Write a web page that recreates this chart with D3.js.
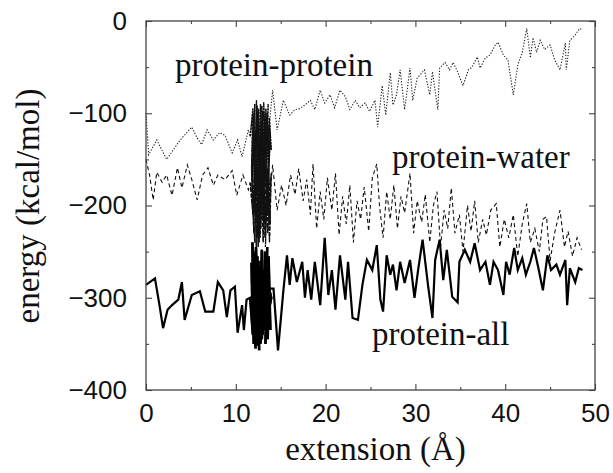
<!DOCTYPE html>
<html><head><meta charset="utf-8">
<script src="https://cdn.jsdelivr.net/npm/d3@7"></script>
<style>body{margin:0;background:#fff}</style></head>
<body>
<svg id="c" width="613" height="473"></svg>
<script>
// ---- data ----
const denseX = [11.6,11.9,11.75,12.0,11.85,12.1,11.95,12.2,12.05,12.3,
12.1,12.0,12.25,12.4,12.2,12.35,12.5,12.3,12.45,12.6,
12.4,12.55,12.7,12.5,12.65,12.8,12.6,12.75,12.9,12.7,
12.85,13.0,12.8,12.95,13.1,12.9,13.05,13.2,13.0,13.15,
13.3,13.1,13.25,13.4,13.2,13.35,13.5,13.3,13.45,13.6,
13.4,13.55,13.7,13.5,13.65,13.85,13.6,13.75,13.95,13.7];

const ppPreX = [0,0.3,1.2,2.3,3.8,5.1,5.7,6.2,6.8,7.5,8.2,8.8,9.6,10.2,10.7,11.4];
const ppPreY = [-100,-145,-129,-150,-129,-115,-127,-134,-118,-129,-121,-124,-143,-129,-147,-118];
const ppDenseY = [-125,-95,-160,-100,-185,-90,-150,-120,-195,-88,
-170,-110,-140,-92,-205,-105,-165,-86,-180,-125,
-145,-95,-190,-100,-160,-115,-240,-90,-150,-130,
-185,-98,-140,-110,-170,-92,-155,-120,-180,-100,
-135,-88,-175,-105,-160,-95,-190,-115,-150,-90,
-170,-110,-145,-100,-165,-120,-185,-105,-140,-115];
const ppPostX = [14.1,14.6,15.3,16.0,16.6,17.1,17.7,18.3,18.8,19.4,19.9,20.5,21.0,21.6,22.2,22.7,23.3,23.8,24.4,24.9,25.5,25.8,26.3,26.7,27.2,27.5,27.9,28.3,28.8,29.4,29.7,30.2,31.0,31.6,31.9,32.5,32.7,33.3,33.8,34.2,34.7,35.3,35.9,36.3,36.9,37.2,37.8,38.3,38.9,39.2,39.8,40.3,40.9,41.4,41.9,42.4,42.8,43.1,43.5,43.9,44.4,45.0,45.5,46.1,46.7,46.8,47.2,47.8,48.3,48.6];
const ppPostY = [-75,-118,-86,-102,-96,-95,-91,-86,-96,-75,-89,-80,-94,-75,-82,-96,-86,-94,-89,-98,-86,-115,-70,-102,-56,-91,-80,-53,-96,-51,-86,-62,-53,-80,-55,-96,-51,-45,-53,-45,-55,-70,-53,-50,-39,-51,-40,-37,-26,-23,-37,-42,-80,-48,-34,-8,-40,-18,-34,-21,-31,-26,-42,-53,-24,-53,-21,-15,-8,-10];

const pwPreX = [0,0.4,0.8,1.2,1.8,2.3,2.9,3.5,4.0,4.6,5.1,5.7,6.3,6.9,7.5,8.0,8.8,9.6,10.1,10.8,11.4];
const pwPreY = [-150,-167,-194,-164,-175,-167,-189,-159,-181,-156,-172,-194,-167,-159,-178,-167,-172,-162,-189,-167,-183];
const pwDenseY = [-175,-210,-160,-230,-150,-240,-185,-200,-145,-250,
-170,-220,-155,-235,-190,-165,-245,-150,-215,-180,
-230,-160,-200,-240,-155,-225,-175,-205,-148,-235,
-190,-165,-220,-150,-210,-185,-240,-160,-200,-175,
-215,-170,-235,-155,-195,-225,-160,-245,-180,-210,
-150,-230,-170,-200,-160,-220,-185,-240,-165,-200];
const pwPostX = [14.1,14.6,15.1,15.6,16.1,16.6,17.0,17.5,17.9,18.3,18.6,19.0,19.4,19.8,20.2,20.7,21.1,21.5,21.9,22.3,22.7,23.1,23.5,23.9,24.3,24.8,25.2,25.7,26.0,26.4,26.8,27.2,27.6,28.0,28.4,28.8,29.4,29.8,30.2,30.7,31.1,31.6,32.0,32.4,32.8,33.2,33.6,34.0,34.4,34.9,35.3,35.8,36.2,36.6,37.0,37.5,37.9,38.4,39.0,39.4,39.9,40.4,40.9,41.4,41.9,42.4,42.8,43.3,43.8,44.2,44.6,45.0,45.5,46.1,46.6,47.0,47.5,48.0,48.5];
const pwPostY = [-156,-205,-178,-200,-167,-188,-160,-195,-172,-210,-155,-225,-185,-215,-170,-205,-165,-232,-190,-220,-178,-240,-195,-215,-180,-228,-170,-155,-200,-235,-185,-215,-178,-225,-190,-208,-165,-230,-195,-218,-188,-240,-200,-185,-245,-205,-225,-181,-230,-210,-250,-200,-228,-195,-240,-215,-232,-205,-198,-245,-215,-235,-210,-255,-220,-198,-240,-225,-250,-215,-212,-260,-230,-205,-245,-228,-255,-235,-248];

const paPreX = [0,1.0,1.5,1.9,2.4,2.9,3.6,4.0,4.3,5.1,6.0,6.6,7.5,8.0,8.6,9.0,9.4,9.9,10.2,10.7,10.9,11.2];
const paPreY = [-286,-279,-308,-333,-313,-308,-302,-283,-324,-297,-293,-315,-315,-283,-292,-321,-292,-288,-338,-308,-335,-302];
const paDenseY = [-300,-340,-262,-350,-240,-330,-275,-355,-250,-320,
-285,-345,-245,-310,-270,-352,-260,-335,-290,-357,
-255,-325,-280,-345,-265,-315,-300,-350,-248,-330,
-275,-340,-260,-320,-295,-345,-270,-310,-290,-335,
-285,-305,-250,-340,-270,-325,-245,-350,-280,-315,
-260,-345,-290,-320,-255,-335,-275,-310,-300,-290];
const paPostX = [14.2,14.7,15.3,15.7,16.0,16.3,16.8,17.4,17.7,18.0,18.4,18.8,19.4,19.9,20.3,20.7,21.1,21.6,22.2,22.5,23.0,23.6,24.1,24.6,25.2,25.7,26.1,26.4,26.8,27.2,27.5,27.9,28.3,28.8,29.4,29.9,30.3,30.8,31.4,31.9,32.2,32.7,33.1,33.5,34.1,34.7,34.9,35.5,36.1,36.6,37.2,37.8,38.3,38.7,39.2,39.8,40.1,40.5,41.0,41.4,41.9,42.3,42.8,43.2,43.7,44.2,44.7,45.1,45.7,46.1,46.7,46.9,47.2,47.8,48.2,48.6];
const paPostY = [-290,-357,-292,-254,-286,-257,-283,-261,-300,-270,-302,-261,-308,-235,-297,-270,-313,-254,-302,-261,-322,-324,-286,-259,-270,-243,-302,-315,-254,-275,-264,-292,-261,-284,-259,-300,-270,-237,-286,-322,-259,-237,-281,-248,-299,-305,-261,-248,-261,-241,-270,-261,-286,-261,-270,-297,-261,-275,-246,-270,-257,-275,-261,-246,-268,-292,-254,-270,-264,-275,-259,-308,-268,-283,-268,-270];

const xTicks = [0,10,20,30,40,50];
const xMinor = [5,15,25,35,45];
const yTicks = [-400,-300,-200,-100,0];
const yMinor = [-350,-250,-150,-50];
const seriesNames = ["protein-protein","protein-water","protein-all"];

// ---- chart ----
const L=146, R=595, T=21, B=390;
const svg = d3.select("#c");
const x = d3.scaleLinear().domain([0,50]).range([L,R]);
const y = d3.scaleLinear().domain([-400,0]).range([B,T]);

const pts = (ax,ay)=>d3.zip(ax,ay);
const ppD = pts(denseX,ppDenseY), pwD = pts(denseX,pwDenseY), paD = pts(denseX,paDenseY);
const pp = [...pts(ppPreX,ppPreY),...ppD,...pts(ppPostX,ppPostY)];
const pw = [...pts(pwPreX,pwPreY),...pwD,...pts(pwPostX,pwPostY)];
const pa = [...pts(paPreX,paPreY),...paD,...pts(paPostX,paPostY)];

const line = d3.line().x(d=>x(d[0])).y(d=>y(d[1]));
const g = svg.append("g");
g.append("path").datum(pp).attr("d",line).attr("fill","none")
  .attr("stroke","#222").attr("stroke-width",1.1).attr("stroke-dasharray","1.3,1.6");
g.append("path").datum(pw).attr("d",line).attr("fill","none")
  .attr("stroke","#111").attr("stroke-width",1.1).attr("stroke-dasharray","4,3");
// dense (many overlapping samples) parts appear nearly solid black
g.append("path").datum(ppD).attr("d",line).attr("fill","none")
  .attr("stroke","#111").attr("stroke-width",1.3).attr("stroke-dasharray","2.5,0.8");
g.append("path").datum(pwD).attr("d",line).attr("fill","none")
  .attr("stroke","#111").attr("stroke-width",1.3).attr("stroke-dasharray","4,1.5");
g.append("path").datum(pa).attr("d",line).attr("fill","none")
  .attr("stroke","#000").attr("stroke-width",2.2).attr("stroke-linejoin","miter");
g.append("path").datum(paD).attr("d",line).attr("fill","none")
  .attr("stroke","#000").attr("stroke-width",2.6);

// axes
const tickStyle = sel=>{ sel.select(".domain").remove(); sel.selectAll("line").attr("stroke","#444").attr("stroke-width",1.1); };
const fontTick = sel=>sel.selectAll("text").attr("font-family","'Liberation Sans',Arial,sans-serif").attr("font-size",26).attr("fill","#111");

svg.append("g").attr("transform",`translate(0,${B})`)
  .call(d3.axisBottom(x).tickValues(xTicks).tickSize(-6).tickPadding(14).tickFormat(d3.format("d")))
  .call(tickStyle).call(fontTick);
svg.append("g").attr("transform",`translate(0,${B})`)
  .call(d3.axisBottom(x).tickValues(xMinor).tickSize(-3).tickFormat(""))
  .call(tickStyle);
svg.append("g").attr("transform",`translate(0,${T})`)
  .call(d3.axisTop(x).tickValues(xTicks).tickSize(-6).tickFormat(""))
  .call(tickStyle);
svg.append("g").attr("transform",`translate(0,${T})`)
  .call(d3.axisTop(x).tickValues(xMinor).tickSize(-3).tickFormat(""))
  .call(tickStyle);
svg.append("g").attr("transform",`translate(${L},0)`)
  .call(d3.axisLeft(y).tickValues(yTicks).tickSize(-6).tickPadding(19).tickFormat(d=>d<0?"\u2212"+Math.abs(d):String(d)))
  .call(tickStyle).call(fontTick);
svg.append("g").attr("transform",`translate(${L},0)`)
  .call(d3.axisLeft(y).tickValues(yMinor).tickSize(-3).tickFormat(""))
  .call(tickStyle);
svg.append("g").attr("transform",`translate(${R},0)`)
  .call(d3.axisRight(y).tickValues(yTicks).tickSize(-6).tickFormat(""))
  .call(tickStyle);
svg.append("g").attr("transform",`translate(${R},0)`)
  .call(d3.axisRight(y).tickValues(yMinor).tickSize(-3).tickFormat(""))
  .call(tickStyle);

svg.append("rect").attr("x",L).attr("y",T).attr("width",R-L).attr("height",B-T)
  .attr("fill","none").attr("stroke","#444").attr("stroke-width",1.3);

// labels
const serif = "'Liberation Serif','Times New Roman',serif";
const lab = (t,xx,yy)=>svg.append("text").attr("x",xx).attr("y",yy).text(t)
  .attr("font-family",serif).attr("font-size",33).attr("fill","#111");
lab(seriesNames[0],175,76);
lab(seriesNames[1],392,168);
lab(seriesNames[2],372,345);

svg.append("text").attr("x",(L+R)/2+5).attr("y",460).attr("text-anchor","middle")
  .attr("font-family",serif).attr("font-size",33).attr("fill","#111").text("extension (Å)");
svg.append("text").attr("transform","translate(39,206) rotate(-90)").attr("text-anchor","middle")
  .attr("font-family",serif).attr("font-size",33).attr("fill","#111").text("energy (kcal/mol)");
</script>
</body></html>
